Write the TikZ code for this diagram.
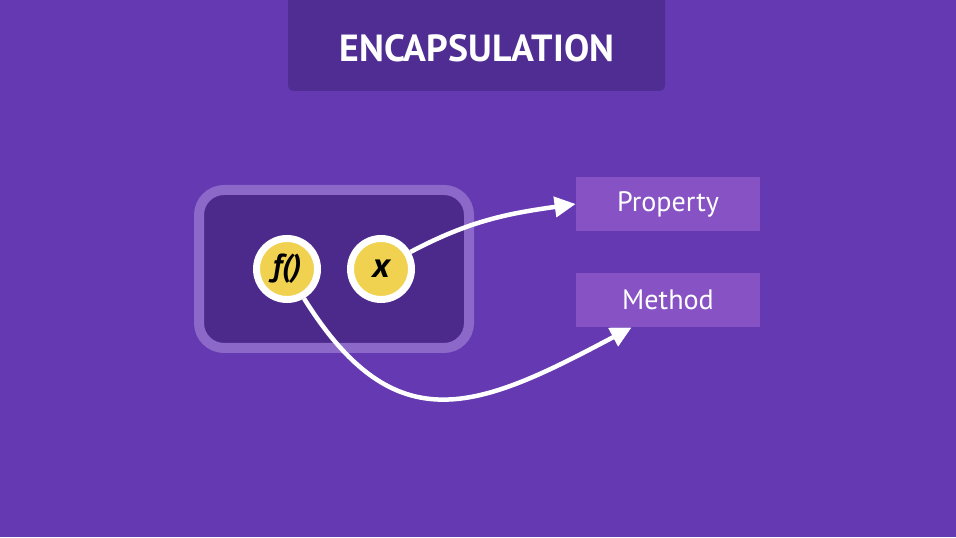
\documentclass[tikz,border=0pt]{standalone}
\usepackage{fontspec}
\setmainfont{PT Sans}
\setsansfont{PT Sans}
\usetikzlibrary{arrows.meta}
\definecolor{bgpurple}{RGB}{100,57,178}
\definecolor{darkpurple}{RGB}{79,45,147}
\definecolor{innerpurple}{RGB}{76,42,140}
\definecolor{rimpurple}{RGB}{140,104,200}
\definecolor{boxpurple}{RGB}{134,82,196}
\definecolor{myyellow}{RGB}{240,210,80}

\begin{document}
\begin{tikzpicture}[every node/.style={text=white, font=\sffamily}]
\fill[bgpurple] (0,0) rectangle (19.12,10.74);
\useasboundingbox (0,0) rectangle (19.12,10.74);

% title
\fill[darkpurple, rounded corners=0.12cm] (5.76,8.92) rectangle (13.30,11.2);
\node[font=\sffamily\bfseries\fontsize{21.5}{26}\selectfont] (title) at (9.54,9.78) {ENCAPSULATION};

% the capsule
\filldraw[fill=innerpurple, draw=rimpurple, line width=0.2cm, rounded corners=0.5cm] (3.98,3.78) rectangle (9.38,6.94);

\node[circle, fill=myyellow, draw=white, line width=0.14cm, minimum size=1.22cm, inner sep=0pt, text=black, font=\sffamily\bfseries\itshape\fontsize{18}{20}\selectfont] (fc) at (5.74,5.36) {f()};
\node[circle, fill=myyellow, draw=white, line width=0.14cm, minimum size=1.22cm, inner sep=0pt, text=black, font=\sffamily\bfseries\itshape\fontsize{20}{20}\selectfont] (xc) at (7.62,5.36) {x};

% the boxes
\node[fill=boxpurple, minimum width=3.68cm, minimum height=1.08cm, inner sep=0pt, font=\sffamily\fontsize{16}{19}\selectfont] (property) at (13.36,6.66) {Property};
\node[fill=boxpurple, minimum width=3.68cm, minimum height=1.08cm, inner sep=0pt, font=\sffamily\fontsize{16}{19}\selectfont] (method) at (13.36,4.74) {Method};
\coordinate (mtip) at ([xshift=1.12cm]method.south west);

% draw the arrows
\draw[white, line width=0.09cm, -{Triangle[length=0.42cm, width=0.4cm]}] (xc.30) to[out=28, in=188] (property.west);
\draw[white, line width=0.09cm, -{Triangle[length=0.42cm, width=0.4cm]}] (fc.-60) to[out=-58, in=208, looseness=1.35] (mtip);

\end{tikzpicture}
\end{document}
